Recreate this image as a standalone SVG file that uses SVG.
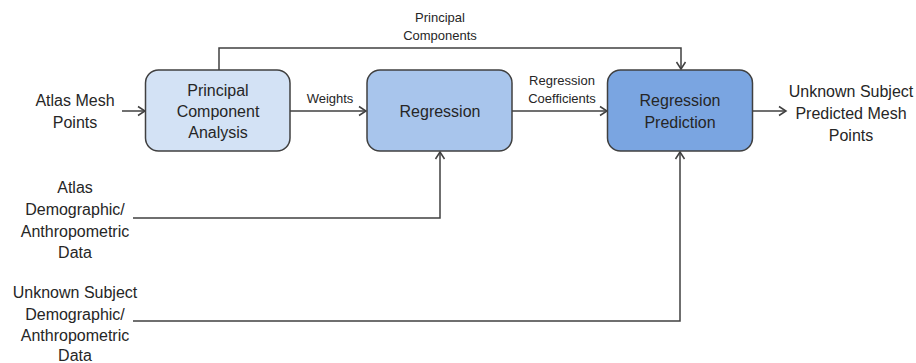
<svg xmlns="http://www.w3.org/2000/svg" width="916" height="363" viewBox="0 0 916 363">
<style>
text{font-family:"Liberation Sans",Arial,sans-serif;fill:#262626;text-anchor:middle}
.big{font-size:16px}
.small{font-size:13px}
.box{stroke:#404040;stroke-width:1.5}
.conn{fill:none;stroke:#404040;stroke-width:1.5}
</style>
<defs>
<marker id="arr" markerWidth="12" markerHeight="12" refX="10" refY="6" orient="auto" markerUnits="userSpaceOnUse">
<path d="M3,1.5 L10,6 L3,10.5" fill="none" stroke="#404040" stroke-width="1.5"/>
</marker>
</defs>
<rect width="916" height="363" fill="#fff"/>
<g id="connectors">
<path class="conn" d="M219,70 V48 H681 V69" marker-end="url(#arr)"/>
<path class="conn" d="M122,111 H145" marker-end="url(#arr)"/>
<path class="conn" d="M290,111 H366" marker-end="url(#arr)"/>
<path class="conn" d="M512,111 H607" marker-end="url(#arr)"/>
<path class="conn" d="M753,111 H786" marker-end="url(#arr)"/>
<path class="conn" d="M133,218 H440 V152" marker-end="url(#arr)"/>
<path class="conn" d="M133,321 H680 V152" marker-end="url(#arr)"/>
</g>
<g id="pca">
<rect class="box" x="145.5" y="70" width="144.5" height="81" rx="13" fill="#d3e2f5"/>
<text class="big" x="218" y="96">Principal</text>
<text class="big" x="218" y="117">Component</text>
<text class="big" x="218" y="138">Analysis</text>
</g>
<g id="regression">
<rect class="box" x="367" y="70" width="145" height="81" rx="13" fill="#a8c5ec"/>
<text class="big" x="440" y="117">Regression</text>
</g>
<g id="prediction">
<rect class="box" x="607.5" y="70" width="145" height="81" rx="13" fill="#7aa5e1"/>
<text class="big" x="680" y="106">Regression</text>
<text class="big" x="680" y="128">Prediction</text>
</g>
<g id="labels">
<text class="small" x="440" y="22">Principal</text>
<text class="small" x="440" y="40">Components</text>
<text class="small" x="330" y="103">Weights</text>
<text class="small" x="562" y="85">Regression</text>
<text class="small" x="562" y="103">Coefficients</text>
</g>
<g id="atlas-mesh">
<text class="big" x="75" y="106">Atlas Mesh</text>
<text class="big" x="75" y="128">Points</text>
</g>
<g id="output">
<text class="big" x="851" y="97">Unknown Subject</text>
<text class="big" x="851" y="119">Predicted Mesh</text>
<text class="big" x="851" y="141">Points</text>
</g>
<g id="atlas-demo">
<text class="big" x="75" y="193">Atlas</text>
<text class="big" x="75" y="215">Demographic/</text>
<text class="big" x="75" y="237">Anthropometric</text>
<text class="big" x="75" y="258">Data</text>
</g>
<g id="unknown-demo">
<text class="big" x="75" y="298">Unknown Subject</text>
<text class="big" x="75" y="320">Demographic/</text>
<text class="big" x="75" y="341">Anthropometric</text>
<text class="big" x="75" y="361">Data</text>
</g>
</svg>
